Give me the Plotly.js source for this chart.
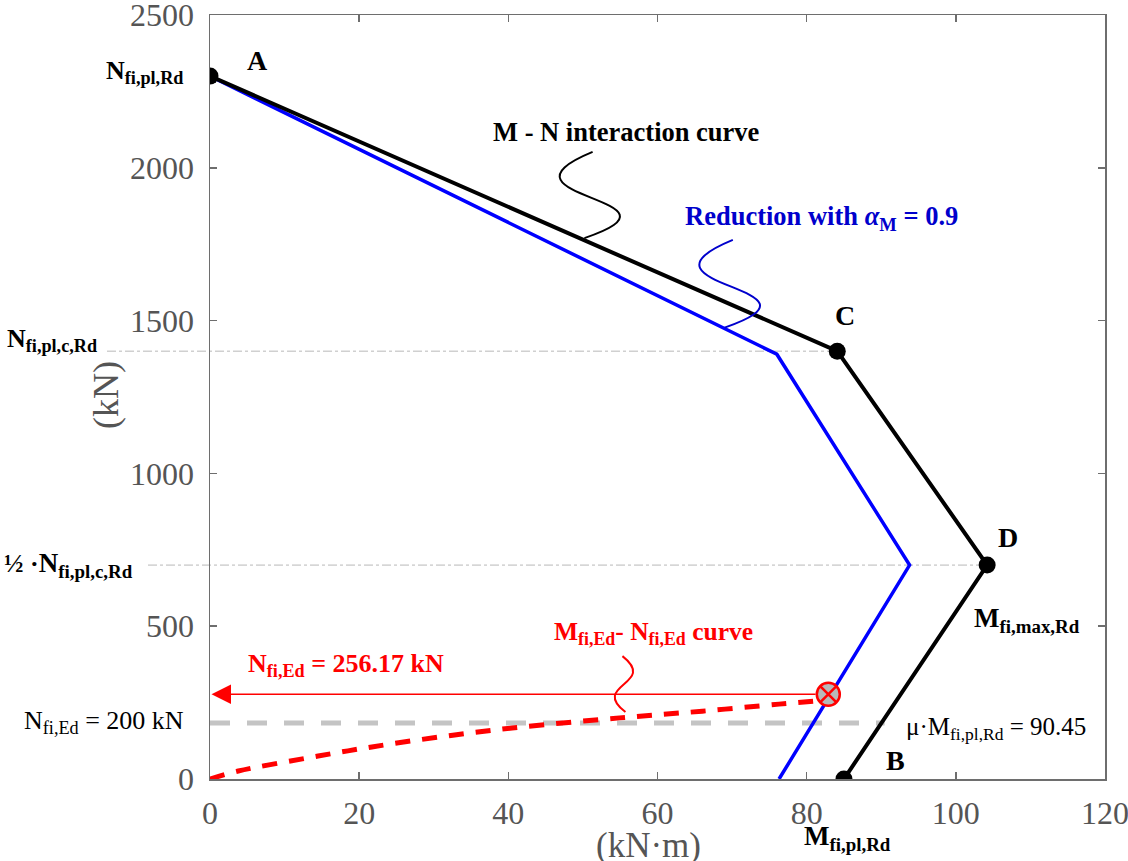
<!DOCTYPE html>
<html>
<head>
<meta charset="utf-8">
<script src="https://cdn.plot.ly/plotly-3.0.1.min.js"></script>
<style>html,body{margin:0;padding:0;background:#fff;}#chart{width:1128px;height:861px;}</style>
</head>
<body>
<div id="chart"></div>
<script>
// M-N interaction curve (A, C, D, B)
const mnM = [0, 84.1, 104.2, 85.0];
const mnN = [2300, 1400, 700, 0];
const mnLabels = ['A', 'C', 'D', 'B'];
// Reduced curve with alpha_M = 0.9
const redM = [0, 76.0, 93.8, 76.3];
const redN = [2300, 1390, 700, 0];
// M_fi,Ed - N_fi,Ed curve
const edM = [0, 3.8, 14.5, 21.7, 30.6, 40.5, 54.9, 66.0, 76.3, 82.0];
const edN = [0, 26, 75, 105, 137, 167, 200, 222, 245, 257];
// check point
const checkM = [82.9];
const checkN = [277];
// reference levels
const refNpl = 1400;      // N_fi,pl,c,Rd
const refHalf = 700;      // 1/2 N_fi,pl,c,Rd
const refNEd = 183;       // N_fi,Ed = 200 kN line
const refMuM = 90.45;     // mu*M_fi,pl,Rd
const xTicks = [0, 20, 40, 60, 80, 100, 120];
const yTicks = [0, 500, 1000, 1500, 2000, 2500];

const L = 210, R = 1105, T = 15, B = 779;
const px = x => (x - L) / (R - L);
const py = y => (B - y) / (B - T);
const serif = 'Liberation Serif, Times New Roman, serif';

const traces = [
  {x: [0, refMuM], y: [refNEd, refNEd], mode: 'lines', line: {color: '#c4c4c4', width: 5, dash: '20px,17px'}, hoverinfo: 'skip'},
  {x: redM, y: redN, mode: 'lines', line: {color: '#0000ff', width: 3.5}},
  {x: mnM, y: mnN, mode: 'lines+markers', line: {color: '#000', width: 4}, marker: {color: '#000', size: 17}},
  {x: edM, y: edN, mode: 'lines', line: {color: '#ff0000', width: 5, dash: '15px,12px', shape: 'spline'}},
  {x: checkM, y: checkN, mode: 'markers', marker: {symbol: 'circle-x', size: 23, color: '#b8b8b8', line: {color: '#ff0000', width: 2.5}}}
];

function ann(text, xp, yp, opts) {
  return Object.assign({text: text, x: px(xp), y: py(yp), xref: 'paper', yref: 'paper', showarrow: false,
    xanchor: 'center', yanchor: 'middle', font: {family: serif, size: 26, color: '#000'}}, opts || {});
}

const annotations = [
  ann('<b>' + mnLabels[0] + '</b>', 257, 60, {font: {family: serif, size: 28, color: '#000'}}),
  ann('<b>' + mnLabels[1] + '</b>', 845, 315, {font: {family: serif, size: 28, color: '#000'}}),
  ann('<b>' + mnLabels[2] + '</b>', 1008, 537, {font: {family: serif, size: 28, color: '#000'}}),
  ann('<b>' + mnLabels[3] + '</b>', 895, 760, {font: {family: serif, size: 28, color: '#000'}}),
  ann('<b>N<sub>fi,pl,Rd</sub></b>', 185, 72, {xanchor: 'right'}),
  ann('<b>N<sub>fi,pl,c,Rd</sub></b>', 5, 340, {xanchor: 'left'}),
  ann('<b><span style="font-size:26px">½ ·</span>N<sub>fi,pl,c,Rd</sub></b>', 2, 565, {xanchor: 'left', font: {family: serif, size: 27, color: '#000'}}),
  ann('<b>M<sub>fi,max,Rd</sub></b>', 972, 620, {xanchor: 'left', font: {family: serif, size: 27, color: '#000'}}),
  ann('<b>M<sub>fi,pl,Rd</sub></b>', 802, 838, {xanchor: 'left', font: {family: serif, size: 27, color: '#000'}}),
  ann('<b>M - N interaction curve</b>', 626, 132, {font: {family: serif, size: 26.5, color: '#000'}}),
  ann('<b>Reduction with <i>α</i><sub>M</sub> = 0.9</b>', 683, 218, {xanchor: 'left', font: {family: serif, size: 26.5, color: '#0000cc'}}),
  ann('<b>M<sub>fi,Ed</sub>- N<sub>fi,Ed</sub> curve</b>', 552, 633, {xanchor: 'left', font: {family: serif, size: 25.5, color: '#ff0000'}}),
  ann('<b>N<sub>fi,Ed</sub> = 256.17 kN</b>', 246, 665, {xanchor: 'left', font: {family: serif, size: 26, color: '#ff0000'}}),
  ann('N<sub>fi,Ed</sub> = 200 kN', 186, 722, {xanchor: 'right'}),
  ann('μ·M<sub>fi,pl,Rd</sub> = 90.45', 904, 728, {xanchor: 'left', font: {family: serif, size: 25, color: '#000'}}),
  ann('(kN·m)', 648, 845, {font: {family: serif, size: 35, color: '#555'}}),
  ann('(kN)', 106, 395, {textangle: -90, font: {family: serif, size: 36, color: '#555'}}),
  {x: 0.2, y: checkN[0], ax: checkM[0] - 1.5, ay: checkN[0], xref: 'x', yref: 'y', axref: 'x', ayref: 'y',
   text: '', showarrow: true, arrowhead: 2, arrowsize: 2.6, arrowwidth: 1.5, arrowcolor: '#ff0000', standoff: 0}
];

const shapes = [
  {type: 'line', xref: 'paper', yref: 'y', x0: px(107), x1: mnM[1] / 120, y0: refNpl, y1: refNpl, line: {color: '#b8b8b8', width: 1, dash: 'dashdot'}, layer: 'below'},
  {type: 'line', xref: 'paper', yref: 'y', x0: px(148), x1: mnM[2] / 120, y0: refHalf, y1: refHalf, line: {color: '#b8b8b8', width: 1, dash: 'dashdot'}, layer: 'below'},
  {type: 'path', xref: 'x', yref: 'y', path: 'M 50.2,1770 C 66,1900 36.2,1900 51.3,2052', line: {color: '#000', width: 2}},
  {type: 'path', xref: 'x', yref: 'y', path: 'M 69.0,1477 C 84.8,1610 54.8,1610 70.1,1764', line: {color: '#0000cc', width: 2}},
  {type: 'path', xref: 'x', yref: 'y', path: 'M 55.3,402 C 60.1,310 50.9,310 55.7,219', line: {color: '#ff0000', width: 2}}
];

const axisCommon = {
  showline: true, mirror: 'ticks', linecolor: '#6e6e6e', linewidth: 1.5,
  ticks: 'inside', ticklen: 7, tickwidth: 1.5, tickcolor: '#6e6e6e',
  showgrid: false, zeroline: false, ticklabeloverflow: 'allow',
  tickfont: {family: serif, size: 32, color: '#555'}
};

const layout = {
  width: 1128, height: 861,
  margin: {l: L, r: 1128 - R, t: T, b: 861 - B},
  paper_bgcolor: '#fff', plot_bgcolor: '#fff',
  showlegend: false,
  xaxis: Object.assign({}, axisCommon, {range: [0, 120], tickvals: xTicks, ticktext: xTicks.map(String), ticklabelstandoff: 5}),
  yaxis: Object.assign({}, axisCommon, {range: [0, 2500.01], tickvals: yTicks, ticktext: yTicks.map(String), ticklabelstandoff: 8}),
  annotations: annotations,
  shapes: shapes
};

Plotly.newPlot('chart', traces, layout, {displayModeBar: false, staticPlot: true});
</script>
</body>
</html>
